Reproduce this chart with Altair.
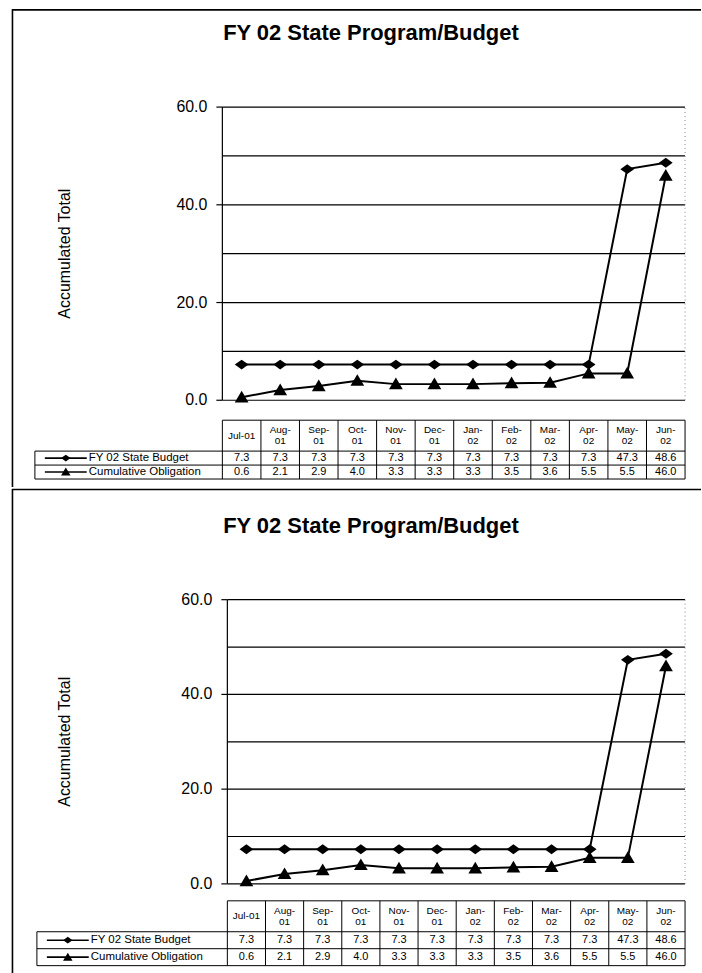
import altair as alt
import pandas as pd

# ---------------- data ----------------
MONTHS = ["Jul-01", "Aug-01", "Sep-01", "Oct-01", "Nov-01", "Dec-01",
          "Jan-02", "Feb-02", "Mar-02", "Apr-02", "May-02", "Jun-02"]
HEADER_LABELS = ["Jul-01", "Aug-\n01", "Sep-\n01", "Oct-\n01", "Nov-\n01", "Dec-\n01",
                 "Jan-\n02", "Feb-\n02", "Mar-\n02", "Apr-\n02", "May-\n02", "Jun-\n02"]
BUDGET = [7.3, 7.3, 7.3, 7.3, 7.3, 7.3, 7.3, 7.3, 7.3, 7.3, 47.3, 48.6]
OBLIGATION = [0.6, 2.1, 2.9, 4.0, 3.3, 3.3, 3.3, 3.5, 3.6, 5.5, 5.5, 46.0]
SERIES = ["FY 02 State Budget", "Cumulative Obligation"]
GRID_VALUES = [10, 20, 30, 40, 50, 60]
TICK_VALUES = [0, 20, 40, 60]
TITLE = "FY 02 State Program/Budget"
Y_TITLE = "Accumulated Total"

# ---------------- style / layout ----------------
FONT = "Liberation Sans"
DIAMOND = "M-1,0L0,-0.72L1,0L0,0.72Z"
TRIANGLE = "M-1,0.75L0,-0.95L1,0.75Z"
LEFT, RIGHT = 11, 700
HEAD_FS = 10
HEAD_LH = 11

PANELS = [
    dict(top=7, bottom=486, x0=222, xn=686, y0=399, ytop=105,
         tab_top=419, head_bottom=450, row1_bottom=464, row2_bottom=478,
         legend_left=34, title_y=31, ytitle_x=64),
    dict(top=486, bottom=973, x0=227, xn=686, y0=882, ytop=597,
         tab_top=899, head_bottom=930, row1_bottom=947, row2_bottom=964,
         legend_left=36, title_y=523, ytitle_x=64),
]


def panel(p):
    n = len(MONTHS)
    ymax = TICK_VALUES[-1]
    W = RIGHT - LEFT
    H = p["bottom"] - p["top"]

    def ux(px):
        return (px - p["x0"]) / (p["xn"] - p["x0"]) * n

    def vy(py):
        return (p["y0"] - py) / (p["y0"] - p["ytop"]) * ymax

    xs = alt.Scale(domain=[ux(LEFT), ux(RIGHT)], nice=False, zero=False)
    ys = alt.Scale(domain=[vy(p["bottom"]), vy(p["top"])], nice=False, zero=False)

    def X(f):
        return alt.X(f, type="quantitative", scale=xs, axis=None)

    def Y(f):
        return alt.Y(f, type="quantitative", scale=ys, axis=None)

    def segs(rows, **kw):
        df = pd.DataFrame(rows, columns=["xa", "xb", "ya", "yb"])
        return alt.Chart(df).mark_rule(**kw).encode(
            x=X("xa"), x2="xb", y=Y("ya"), y2="yb")

    def texts(rows, **kw):
        df = pd.DataFrame(rows, columns=["x", "y", "t"])
        return alt.Chart(df).mark_text(font=FONT, color="black", **kw).encode(
            x=X("x"), y=Y("y"), text="t:N")

    layers = []

    # page frame: top edge and left edge of the panel
    frame = [(ux(LEFT), ux(RIGHT + 2), vy(p["top"] + 0.5), vy(p["top"] + 0.5)),
             (ux(LEFT + 0.5), ux(LEFT + 0.5), vy(p["top"]), vy(p["bottom"]))]
    layers.append(segs(frame, color="black", strokeWidth=1.6))

    # plot gridlines, axis
    grid = [(0, n, g, g) for g in GRID_VALUES]
    grid += [(0, n, 0, 0), (0, 0, 0, ymax)]
    grid += [(ux(p["x0"] - 6), 0, t, t) for t in TICK_VALUES]
    layers.append(segs(grid, color="black", strokeWidth=1.2))
    layers.append(segs([(n, n, 0, ymax)], color="#888888", strokeWidth=1, strokeDash=[1, 3]))

    # tick labels
    layers.append(texts([(ux(p["x0"] - 15), t, f"{t:.1f}") for t in TICK_VALUES],
                        align="right", baseline="middle", fontSize=16))

    # series
    cols = [i + 0.5 for i in range(n)]
    df_b = pd.DataFrame({"c": cols, "v": BUDGET, "s": SERIES[0]})
    df_o = pd.DataFrame({"c": cols, "v": OBLIGATION, "s": SERIES[1]})
    for df, shape in ((df_b, DIAMOND), (df_o, TRIANGLE)):
        base = alt.Chart(df).encode(x=X("c"), y=Y("v"))
        layers.append(base.mark_line(color="black", strokeWidth=2))
        layers.append(base.mark_point(shape=shape, filled=True, color="black",
                                      opacity=1, size=190))

    # table grid
    tt, hb, r1, r2 = p["tab_top"], p["head_bottom"], p["row1_bottom"], p["row2_bottom"]
    ll = ux(p["legend_left"])
    tab = [(0, n, vy(tt), vy(tt))]
    tab += [(ll, n, vy(y), vy(y)) for y in (hb, r1, r2)]
    tab += [(i, i, vy(tt), vy(r2)) for i in range(n + 1)]
    tab += [(ll, ll, vy(hb), vy(r2))]
    layers.append(segs(tab, color="black", strokeWidth=1))

    # header labels (multi-line blocks centred vertically in the header row)
    hc = (tt + hb) / 2
    heads = []
    for i, lab in enumerate(HEADER_LABELS):
        k = lab.count("\n")
        heads.append((cols[i], vy(hc - k * HEAD_LH / 2), lab))
    layers.append(texts(heads, align="center", baseline="middle", fontSize=HEAD_FS,
                        lineBreak="\n", lineHeight=HEAD_LH))
    # values
    rc1 = vy((hb + r1) / 2)
    rc2 = vy((r1 + r2) / 2)
    vals = [(cols[i], rc1, f"{BUDGET[i]:.1f}") for i in range(n)]
    vals += [(cols[i], rc2, f"{OBLIGATION[i]:.1f}") for i in range(n)]
    layers.append(texts(vals, align="center", baseline="middle", fontSize=11))

    # legend keys
    lx0, lx1, lxm = ux(p["legend_left"] + 10), ux(p["legend_left"] + 52), ux(p["legend_left"] + 31)
    layers.append(segs([(lx0, lx1, rc1, rc1), (lx0, lx1, rc2, rc2)], color="black", strokeWidth=1.6))
    for yc, shape in ((rc1, DIAMOND), (rc2, TRIANGLE)):
        layers.append(alt.Chart(pd.DataFrame({"x": [lxm], "y": [yc]})).mark_point(
            shape=shape, filled=True, color="black", opacity=1, size=90).encode(
            x=X("x"), y=Y("y")))
    layers.append(texts([(ux(p["legend_left"] + 54), rc1, SERIES[0]),
                         (ux(p["legend_left"] + 54), rc2, SERIES[1])],
                        align="left", baseline="middle", fontSize=11.5))

    # title & y title
    layers.append(texts([(ux(371), vy(p["title_y"]), TITLE)],
                        align="center", baseline="middle", fontSize=22, fontWeight="bold"))
    layers.append(texts([(ux(p["ytitle_x"]), (vy(p["y0"]) + vy(p["ytop"])) / 2, Y_TITLE)],
                        align="center", baseline="middle", fontSize=16, angle=270))

    return alt.layer(*layers).properties(width=W, height=H)


chart = alt.vconcat(*[panel(p) for p in PANELS], spacing=0).properties(
    padding={"left": LEFT, "top": 7, "right": 0, "bottom": 0},
    background="white",
).configure_view(stroke=None)

chart.save("out.html", embed_options={"renderer": "svg", "actions": False})
